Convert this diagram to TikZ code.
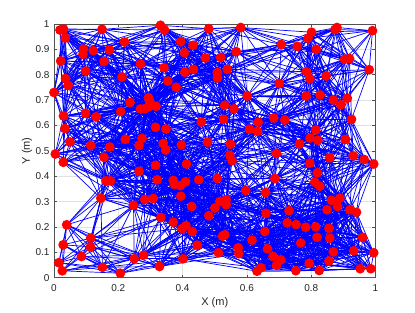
\documentclass[tikz,border=0pt]{standalone}
\usepackage{fontspec}
\setmainfont{Liberation Sans}
\definecolor{edgeblue}{RGB}{0,0,255}
\definecolor{dotred}{RGB}{255,0,0}
\definecolor{axisgray}{RGB}{38,38,38}
\definecolor{gridgray}{RGB}{225,225,225}
\tikzset{
  linkline/.style={draw=edgeblue, line width=0.7pt},
  sensor/.style={circle, fill=dotred, inner sep=0pt, minimum size=9.8pt},
  axisline/.style={draw=axisgray!80, line width=0.6pt},
  gridline/.style={draw=gridgray, line width=0.5pt},
  ticklabel/.style={font=\fontsize{10}{12}\selectfont, text=axisgray, inner sep=0pt},
  axlabel/.style={font=\fontsize{11}{13}\selectfont, text=axisgray, inner sep=0pt}
}
\def\ptlist{600/300, 635/290, 653/380, 1020/293, 1245/420, 835/490, 830/543, 932/507, 1095/500, 1605/253,
1645/300, 1807/417, 1930/453, 1845/527, 2053/580, 2207/575, 2087/287, 2407/275, 2362/517, 3115/322,
3080/383, 3350/295, 3370/275, 3725/307, 2812/445, 2973/463, 3162/493, 3445/593, 3495/585, 607/610,
1040/615, 1405/640, 857/710, 1220/770, 655/785, 682/852, 540/925, 1640/677, 1678/810, 1762/872,
1847/722, 1935/693, 2173/725, 2175/780, 2273/693, 2472/960, 1485/978, 1498/1015, 3065/717, 3098/787,
3262/760, 3692/697, 2792/835, 3062/960, 3202/950, 3333/1000, 3473/983, 3408/1048, 1300/1025, 1405/1090,
1448/1087, 1487/1067, 1560/1063, 855/1133, 962/1167, 1207/1115, 635/1160, 648/1285, 1555/1272, 1660/1290,
700/1420, 907/1455, 1098/1470, 1253/1393, 1420/1385, 1390/1455, 1632/1435, 1657/1500, 1813/1450, 2012/1220,
2075/1422, 2247/1053, 2340/1088, 2235/1193, 2582/1222, 2495/1292, 2575/1313, 2305/1443, 2737/1180, 2848/1200,
3515/1193, 3158/1300, 3100/1380, 3178/1402, 2995/1440, 3452/1395, 2765/1533, 553/1540, 633/1623, 1040/1573,
1060/1808, 1105/1808, 1390/1712, 1557/1652, 1572/1798, 1008/1982, 1335/2052, 1448/1995, 1532/1985, 1865/1640,
2298/1553, 2320/1607, 1732/1804, 1745/1845, 1805/1856, 1855/1818, 1988/1798, 2173/1785, 2458/1905, 2656/1925,
1808/1962, 3098/1632, 3298/1578, 3532/1558, 3642/1595, 3737/1640, 2748/1785, 3173/1728, 3148/1822, 3198/1862,
3315/2003, 3398/1982, 1608/2175, 667/2248, 907/2382, 632/2448, 905/2468, 815/2565, 588/2627, 623/2708,
1025/2673, 1203/2732, 1342/2588, 1435/2552, 1595/2665, 1732/2222, 1860/2257, 1822/2285, 1922/2315, 1973/2452,
1916/2065, 2088/2157, 2148/2080, 2198/2015, 2262/1998, 2262/2048, 2247/2348, 2225/2362, 2520/2402, 2648/2315,
2382/2478, 2388/2537, 2675/2488, 2185/2527, 1830/2588, 2570/2712, 2610/2678, 2730/2565, 2808/2598, 2765/2652,
2660/2133, 2890/2107, 3375/2065, 3270/2098, 3498/2098, 3565/2123, 2872/2228, 2962/2245, 3057/2272, 3157/2268,
3290/2282, 3170/2373, 3298/2382, 3625/2373, 3007/2430, 3332/2518, 3538/2508, 3737/2528, 3092/2633, 3290/2610,
2958/2707, 3192/2705, 3602/2687, 3708/2687}
\def\rA{40000}
\def\rB{90000}
\begin{document}
\begin{tikzpicture}[x=0.1pt,y=-0.1pt]
\useasboundingbox (0,0) rectangle (4150,3120);
\fill[white] (0,0) rectangle (4150,3120);
% frame corners
\coordinate (ll) at (540,2777);
\coordinate (ur) at (3755,240);
% grid
\foreach \k in {1,...,4} {
  \pgfmathsetmacro\xx{540+643*\k}
  \draw[gridline] (\xx,240) -- (\xx,2777);
}
\foreach \k in {1,...,9} {
  \pgfmathsetmacro\yy{2777-253.7*\k}
  \draw[gridline] (540,\yy) -- (3755,\yy);
}
% axis box and ticks
\draw[axisline] (ll) rectangle (ur);
\foreach \k/\t in {0/0,1/0.2,2/0.4,3/0.6,4/0.8,5/1} {
  \pgfmathsetmacro\xx{540+643*\k}
  \draw[axisline] (\xx,2777) -- ++(0,-32);
  \draw[axisline] (\xx,240) -- ++(0,32);
  \node[ticklabel] (xt\k) at (\xx,2885) {\t};
}
\foreach \k/\t in {0/0,1/0.1,2/0.2,3/0.3,4/0.4,5/0.5,6/0.6,7/0.7,8/0.8,9/0.9,10/1} {
  \pgfmathsetmacro\yy{2777-253.7*\k}
  \draw[axisline] (540,\yy) -- ++(32,0);
  \draw[axisline] (3755,\yy) -- ++(-32,0);
  \node[ticklabel, anchor=east] (yt\k) at (497,\yy) {\t};
}
\node[axlabel] (xlab) at (2148,3030) {X (m)};
\node[axlabel, rotate=90] (ylab) at (270,1508) {Y (m)};
% sensor positions
\foreach [count=\i] \a/\b in \ptlist {
  \coordinate (p\i) at (\a,\b);
  \expandafter\xdef\csname PX\i\endcsname{\a}
  \expandafter\xdef\csname PY\i\endcsname{\b}
  \xdef\NP{\i}
}
% links
\pgfmathsetseed{11}
\pgfmathtruncatemacro\NPm{\NP-1}
\foreach \i in {1,...,\NPm} {
  \pgfmathtruncatemacro\js{\i+1}
  \foreach \j in {\js,...,\NP} {
    \edef\dx{\the\numexpr(\csname PX\i\endcsname-\csname PX\j\endcsname)*311/1000\relax}
    \edef\dy{\the\numexpr(\csname PY\i\endcsname-\csname PY\j\endcsname)*3945/10000\relax}
    \edef\dd{\the\numexpr\dx*\dx+\dy*\dy\relax}
    \def\dolink{0}
    \ifnum\dd<\rA\relax
      \def\dolink{1}
    \else
      \ifnum\dd<\rB\relax
        \pgfmathrandominteger{\h}{0}{999}
        \ifnum\numexpr\h*(\rB-\rA)\relax>\numexpr(\dd-\rA)*1000\relax
          \def\dolink{1}
        \fi
      \fi
    \fi
    \if1\dolink
      \draw[linkline] (p\i) -- (p\j);
    \fi
  }
}
% sensors
\foreach \i in {1,...,\NP} {
  \node[sensor] (n\i) at (p\i) {};
}
\end{tikzpicture}
\end{document}
